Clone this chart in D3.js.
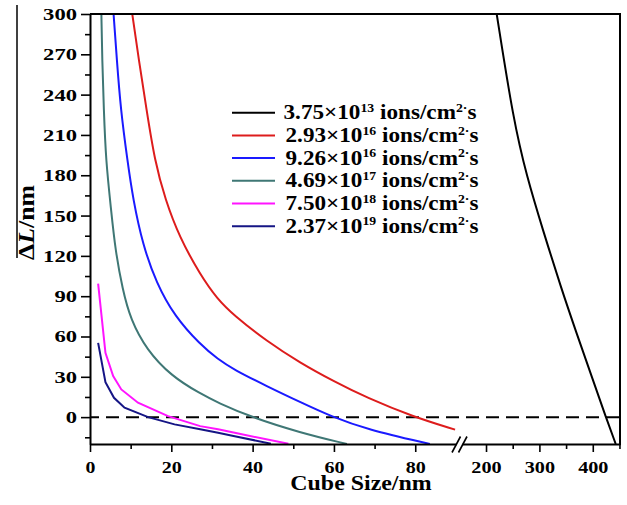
<!DOCTYPE html>
<html>
<head>
<meta charset="utf-8">
<script src="https://cdn.jsdelivr.net/npm/d3@7"></script>
<style>
body { margin: 0; background: #fff; }
svg text { font-family: "Liberation Serif", "Times New Roman", serif; font-weight: bold; fill: #000; }
</style>
</head>
<body>
<script>
// cube size (nm) and delta L (nm), one pair of arrays per flux
var size1 = [220, 251.3, 276.4, 306.4, 340, 370, 400, 424.5, 443];
var dl1   = [300, 221, 179, 139.5, 97, 62, 28, 0, -20];
var size2 = [10.4, 12.0, 13.9, 15.9, 18.5, 22, 27.1, 31.3, 35.3, 43.5, 51.7, 59.9, 68.1, 79.5, 89.8];
var dl2   = [300, 266, 229, 191, 162, 134, 106, 88, 76, 56.5, 40.4, 26.8, 14.4, 0.3, -9.3];
var size3 = [5.8, 6.6, 7.55, 9.2, 10.6, 13.0, 16.3, 20.8, 27.1, 31.5, 35.3, 43.5, 51.7, 59.5, 68.1, 83.6];
var dl3   = [300, 266, 229, 191, 162, 128, 100, 75, 54, 43, 35.5, 23, 11.2, 0.3, -9.1, -20];
var size4 = [2.8, 3.0, 3.4, 3.9, 5.2, 6.2, 8.0, 10.0, 13.9, 20.0, 27.1, 31.5, 39.4, 51.7, 63.2];
var dl4   = [300, 266, 229, 191, 154, 125, 95, 72.5, 50.2, 30.5, 17.5, 10.7, 0.3, -11.6, -20];
var size5 = [2.0, 3.8, 5.7, 7.7, 11.8, 19.2, 27.1, 31.5, 35.3, 48.8];
var dl5   = [99.3, 47.8, 30.5, 20.6, 10.7, 0.7, -6.7, -9.1, -11.5, -19.8];
var size6 = [2.0, 3.8, 5.9, 8.5, 14.3, 20.8, 27.1, 31.5, 35.3, 44.5];
var dl6   = [55.3, 26, 14.4, 7.0, 0, -5.4, -9.1, -11.6, -14, -19.8];

var fluxMantissa = ["3.75", "2.93", "9.26", "4.69", "7.50", "2.37"];
var fluxExponent = ["13", "16", "16", "17", "18", "19"];
var colors = ["#000000", "#dd1c1c", "#1a1aff", "#3f7775", "#ff14ff", "#151585"];

var yTicks = [0, 30, 60, 90, 120, 150, 180, 210, 240, 270, 300];
var yMinor = [-15, 15, 45, 75, 105, 135, 165, 195, 225, 255, 285];
var xTicksLeft = [0, 20, 40, 60, 80];
var xMinorLeft = [10, 30, 50, 70];
var xTicksRight = [200, 300, 400];
var xMinorRight = [250, 350, 450];

var w = 627;
var h = 505;

var svg = d3.select("body").append("svg")
  .attr("width", w)
  .attr("height", h);

var y = d3.scaleLinear().domain([-20, 300]).range([444, 14]);
var xL = d3.scaleLinear().domain([0, 90]).range([90, 455.9]);
var xR = d3.scaleLinear().domain([155, 451]).range([462, 620]);

var defs = svg.append("defs");
defs.append("clipPath").attr("id", "clipL").append("rect")
  .attr("x", 90).attr("y", 14).attr("width", 366).attr("height", 430);
defs.append("clipPath").attr("id", "clipR").append("rect")
  .attr("x", 462).attr("y", 14).attr("width", 158).attr("height", 430);

// stretch a text horizontally so it is `target` px wide
function fitWidth(sel, target) {
  var bw = sel.node().getBBox().width;
  return target / bw;
}

// zero line
svg.append("line")
  .attr("x1", xL(0))
  .attr("x2", xR(451))
  .attr("y1", y(0))
  .attr("y2", y(0))
  .style("stroke", "#000")
  .style("stroke-width", 2)
  .style("stroke-dasharray", "13,7")
  .style("stroke-dashoffset", 4);

function lineFor(xs, curve) {
  return d3.line()
    .x(function(d) { return xs(d[0]); })
    .y(function(d) { return y(d[1]); })
    .curve(curve);
}

var leftSeries = [[size2, dl2], [size3, dl3], [size4, dl4], [size5, dl5], [size6, dl6]];

svg.append("g").attr("clip-path", "url(#clipL)")
  .selectAll("path")
  .data(leftSeries)
  .enter().append("path")
  .attr("d", function(s, i) {
    return lineFor(xL, i < 3 ? d3.curveBasis : d3.curveLinear)(d3.zip(s[0], s[1]));
  })
  .style("fill", "none")
  .style("stroke", function(s, i) { return colors[i + 1]; })
  .style("stroke-width", 2);

svg.append("g").attr("clip-path", "url(#clipR)")
  .append("path")
  .attr("d", lineFor(xR, d3.curveBasis)(d3.zip(size1, dl1)))
  .style("fill", "none")
  .style("stroke", colors[0])
  .style("stroke-width", 2);

// axes
var yAxis = svg.append("g")
  .attr("transform", "translate(90,0)")
  .call(d3.axisLeft(y).tickValues(yTicks).tickSize(9).tickSizeOuter(0).tickPadding(4));
yAxis.selectAll("text")
  .attr("font-size", 17)
  .style("font-size", "17px")
  .each(function(d) {
    var t = d3.select(this);
    var sx = fitWidth(t, String(d).length * 11.3);
    t.attr("x", -13 / sx).attr("transform", "scale(" + sx + ",1)");
  });

svg.append("g")
  .attr("class", "minor")
  .attr("transform", "translate(90,0)")
  .call(d3.axisLeft(y).tickValues(yMinor).tickSize(5).tickFormat(""));

var xAxisL = svg.append("g")
  .attr("transform", "translate(0,444)")
  .call(d3.axisBottom(xL).tickValues(xTicksLeft).tickSize(8).tickSizeOuter(0).tickPadding(9));
var xAxisR = svg.append("g")
  .attr("transform", "translate(0,444)")
  .call(d3.axisBottom(xR).tickValues(xTicksRight).tickSize(8).tickSizeOuter(0).tickPadding(9));
svg.append("g")
  .attr("class", "minor")
  .attr("transform", "translate(0,444)")
  .call(d3.axisBottom(xL).tickValues(xMinorLeft).tickSize(5).tickFormat(""));
svg.append("g")
  .attr("class", "minor")
  .attr("transform", "translate(0,444)")
  .call(d3.axisBottom(xR).tickValues(xMinorRight).tickSize(5).tickFormat(""));

svg.selectAll(".minor .domain").remove();
[xAxisL, xAxisR].forEach(function(a) {
  a.selectAll("text")
    .attr("font-size", 17.5)
    .style("font-size", "17.5px")
    .each(function(d) {
      var t = d3.select(this);
      var sx = fitWidth(t, String(d).length * 10.2);
      t.attr("transform", "scale(" + sx + ",1)");
    });
});

svg.selectAll(".domain").style("stroke-width", 2);
svg.selectAll(".tick line").style("stroke-width", 1.6);

// frame top and right
svg.append("line")
  .attr("x1", 90).attr("x2", 621).attr("y1", 14).attr("y2", 14)
  .style("stroke", "#000").style("stroke-width", 2);
svg.append("line")
  .attr("x1", 620).attr("x2", 620).attr("y1", 13).attr("y2", 445)
  .style("stroke", "#000").style("stroke-width", 2);

// axis break marks
[452, 458.5].forEach(function(bx) {
  svg.append("line")
    .attr("x1", bx).attr("y1", 452.5)
    .attr("x2", bx + 8.5).attr("y2", 436.5)
    .style("stroke", "#000").style("stroke-width", 1.6);
});

// stray frame line at the left edge
svg.append("line")
  .attr("x1", 17).attr("x2", 17).attr("y1", 5).attr("y2", 258)
  .style("stroke", "#000").style("stroke-width", 1.5);

// axis titles
var xTitle = svg.append("text")
  .attr("font-size", 21)
  .style("font-size", "21px")
  .attr("text-anchor", "middle")
  .text("Cube Size/nm");
xTitle.attr("transform", "translate(361,490) scale(" + fitWidth(xTitle, 142) + ",1)");

var yTitle = svg.append("text")
  .attr("font-size", 23)
  .style("font-size", "23px")
  .attr("text-anchor", "middle");
yTitle.append("tspan").text("\u0394");
yTitle.append("tspan").style("font-style", "italic").text("L");
yTitle.append("tspan").text("/nm");
yTitle.attr("transform", "translate(34,222.5) rotate(-90) scale(" + fitWidth(yTitle, 75) + ",1)");

// legend
var legend = svg.append("g");
var rows = legend.selectAll("g")
  .data(fluxMantissa)
  .enter().append("g")
  .attr("transform", function(d, i) { return "translate(0," + (112.7 + i * 22.7) + ")"; });

rows.append("line")
  .attr("x1", 232).attr("x2", 275)
  .attr("y1", 0).attr("y2", 0)
  .style("stroke", function(d, i) { return colors[i]; })
  .style("stroke-width", 2);

rows.each(function(d, i) {
  var t = d3.select(this).append("text")
    .attr("font-size", 21)
    .style("font-size", "21px");
  t.append("tspan").text(d + "\u00d710");
  t.append("tspan").attr("dy", -7.5).style("font-size", "12.5px").text(fluxExponent[i]);
  t.append("tspan").attr("dy", 7.5).text(" ions/cm");
  t.append("tspan").attr("dy", -7.5).style("font-size", "12.5px").text("2\u00b7");
  t.append("tspan").attr("dy", 7.5).text("s");
  t.attr("transform", "translate(" + (i === 0 ? 283.5 : 285.5) + ",6.6) scale(" + fitWidth(t, 193) + ",1)");
});
</script>
</body>
</html>
